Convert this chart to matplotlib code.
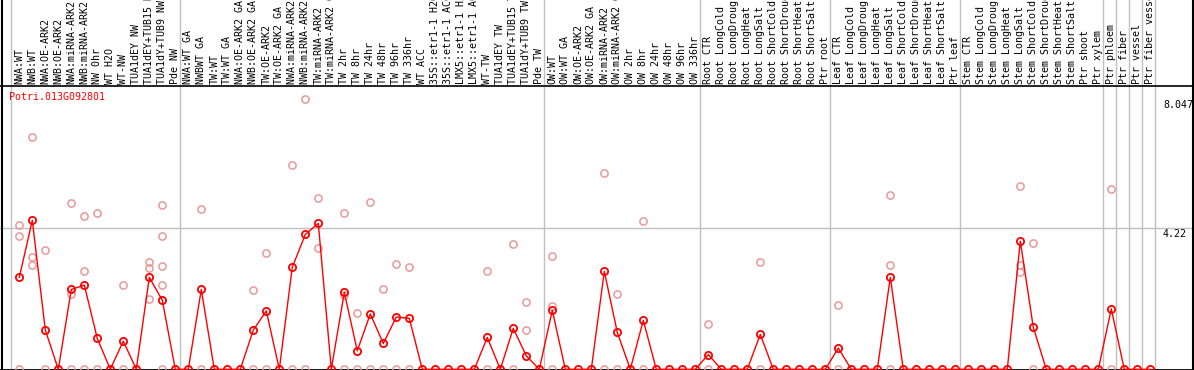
import matplotlib
matplotlib.use('Agg')
from matplotlib import pyplot as plt
from matplotlib import transforms


# sample labels (one per column)
labels = ['NWA:WT', 'NWB:WT', 'NWA:OE-ARK2', 'NWB:OE-ARK2', 'NWA:miRNA-ARK2', 'NWB:miRNA-ARK2',
	'NW 0hr', 'WT H2O', 'WT-NW', 'TUA1dEY NW', 'TUA1dEY+TUB15 NW', 'TUA1dY+TUB9 NW', 'Pde NW',
	'NWA:WT GA', 'NWBWT GA', 'TW:WT', 'TW:WT GA', 'NWA:OE-ARK2 GA', 'NWB:OE-ARK2 GA', 'TW:OE-ARK2',
	'TW:OE-ARK2 GA', 'NWA:miRNA-ARK2 GA', 'NWB:miRNA-ARK2 GA', 'TW:miRNA-ARK2', 'TW:miRNA-ARK2 GA',
	'TW 2hr', 'TW 8hr', 'TW 24hr', 'TW 48hr', 'TW 96hr', 'TW 336hr', 'WT ACC',
	'35S::etr1-1 H2O', '35S::etr1-1 ACC', 'LMX5::etr1-1 H2O', 'LMX5::etr1-1 ACC', 'WT-TW',
	'TUA1dEY TW', 'TUA1dEY+TUB15 TW', 'TUA1dY+TUB9 TW', 'Pde TW',
	'OW:WT', 'OW:WT GA', 'OW:OE-ARK2', 'OW:OE-ARK2 GA', 'OW:miRNA-ARK2', 'OW:miRNA-ARK2 GA',
	'OW 2hr', 'OW 8hr', 'OW 24hr', 'OW 48hr', 'OW 96hr', 'OW 336hr',
	'Root CTR', 'Root LongCold', 'Root LongDrought', 'Root LongHeat', 'Root LongSalt',
	'Root ShortCold', 'Root ShortDrought', 'Root ShortHeat', 'Root ShortSalt', 'Ptr root',
	'Leaf CTR', 'Leaf LongCold', 'Leaf LongDrought', 'Leaf LongHeat', 'Leaf LongSalt',
	'Leaf ShortCold', 'Leaf ShortDrought', 'Leaf ShortHeat', 'Leaf ShortSalt', 'Ptr leaf',
	'Stem CTR', 'Stem LongCold', 'Stem LongDrought', 'Stem LongHeat', 'Stem LongSalt',
	'Stem ShortCold', 'Stem ShortDrought', 'Stem ShortHeat', 'Stem ShortSalt', 'Ptr shoot',
	'Ptr xylem', 'Ptr phloem', 'Ptr fiber', 'Ptr vessel', 'Ptr fiber vessel']

# mean expression per column
means = [2.74, 4.44, 1.17, 0, 2.38, 2.51, 0.92, 0, 0.84, 0, 2.74, 2.06, 0,
	0, 2.38, 0, 0, 0, 1.17, 1.74, 0, 3.04, 4.02, 4.35, 0, 2.29, 0.55, 1.65, 0.77, 1.56, 1.52,
	0, 0, 0, 0, 0, 0.95, 0, 1.22, 0.40, 0,
	1.76, 0, 0, 0, 2.92, 1.10, 0, 1.46, 0, 0, 0, 0,
	0.44, 0, 0, 0, 1.04, 0, 0, 0, 0, 0,
	0.63, 0, 0, 0, 2.74, 0, 0, 0, 0, 0,
	0, 0, 0, 0, 3.82, 1.25, 0, 0, 0, 0, 0,
	1.80, 0, 0, 0]

# replicate points (column number, value)
rep_cols = [1, 1, 1, 2, 2, 2, 3, 3, 5, 5, 5, 6, 6, 6, 7, 7, 9, 9, 11, 11, 11,
	12, 12, 12, 12, 12, 15, 15, 19, 19, 20, 20, 22, 22, 23, 23, 24, 24,
	26, 26, 26, 27, 27, 28, 28, 29, 29, 30, 30, 31, 31, 37, 37, 39, 39, 40, 40,
	42, 42, 42, 46, 46, 47, 47, 49, 49, 54, 54, 58, 58, 64, 64,
	68, 68, 68, 78, 78, 78, 79, 79, 85, 85]
rep_vals = [4.29, 3.97, 0, 6.92, 3.36, 3.11, 3.55, 0, 4.95, 2.24, 0, 4.57, 2.92, 0, 4.65, 0, 2.51, 0, 3.20, 3.01, 2.09,
	4.89, 3.97, 3.08, 2.50, 0, 4.78, 0, 2.36, 0, 3.46, 0, 6.09, 0, 8.047, 0, 5.10, 3.61,
	4.65, 2.21, 0, 1.67, 0, 4.98, 0, 2.38, 0, 3.14, 0, 3.04, 0, 2.92, 0, 3.73, 0, 2.00, 1.17,
	3.37, 1.89, 0, 5.84, 0, 2.23, 0, 4.41, 0, 1.34, 0, 3.19, 0, 1.91, 0,
	5.19, 3.10, 0, 5.45, 3.11, 2.91, 3.75, 0, 5.37, 0]

# group separators (before these columns)
group_starts = [1, 14, 42, 54, 64, 74, 85, 86, 87, 88, 89]
y_ticks = [0, 4.22, 8.047]
y_ticklabels = ['0', '4.22', '8.047']

W, H = 1194, 370
px = 13.0          # pixels per column
x0 = 19.3          # pixel of column 1
base = 369.3       # pixel of value 0
scale = 33.55      # pixels per unit
top_line = 86

fig = plt.figure(figsize=(W / 100, H / 100), dpi=100)
ax = fig.add_axes([0, 0, 1, 1])
ax.set_xlim(1 - x0 / px, 1 + (W - x0) / px)
ax.set_ylim(-(H - base) / scale, base / scale)
ax.axis('off')

font = 'DejaVu Sans Mono'
cols = list(range(1, len(labels) + 1))

# grid lines
for g in group_starts:
	ax.axvline(g - 8 / px, color='#c0c0c0', lw=1, zorder=1)
ax.axhline(4.22, color='#c0c0c0', lw=1, zorder=1)

# frame
top_val = (base - top_line) / scale
ax.axhline(top_val, color='black', lw=1.2, zorder=3)
ax.axhline(0 - 0.5 / scale, color='black', lw=2, zorder=3)
ax.axvline(1 - (x0 - 1.5) / px, color='black', lw=1.5, zorder=3)
ax.axvline(1 + (W - 1.5 - x0) / px, color='black', lw=1.5, zorder=3)

# sample labels
for c, lab in zip(cols, labels):
	ax.text(c, top_val + 2 / scale, lab, rotation=90, ha='center', va='bottom',
		fontsize=7.2, family=font, color='black', clip_on=False)

# replicates
ax.plot(rep_cols, rep_vals, linestyle='none', marker='o', markersize=5.2, markerfacecolor='none',
	markeredgecolor='#e89898', markeredgewidth=1.1, zorder=4)

# mean line
ax.plot(cols, means, color='#ff0000', lw=1, marker='o', markersize=5.2, markerfacecolor='none',
	markeredgecolor='#ff0000', markeredgewidth=1.3, zorder=5)

# title
ax.text(1 - (x0 - 9.5) / px, (base - 97) / scale, 'Potri.013G092801', color='#ff0000',
	fontsize=7.2, family=font, ha='left', va='center')

# y labels on right
for v, t in zip(y_ticks, y_ticklabels):
	ax.text(1 + (1163 - x0) / px, v - 1 / scale, t, fontsize=7.2, family=font,
		ha='left', va='top', color='black')

plt.savefig('out.png', dpi=100)
